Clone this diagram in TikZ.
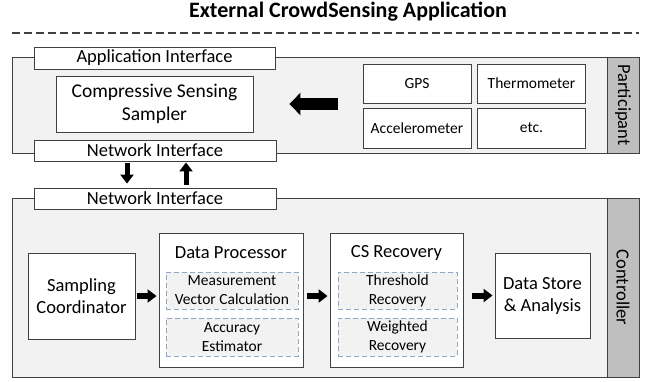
\documentclass[tikz,border=0pt]{standalone}
\usepackage{fontspec}
\setmainfont{Carlito}
\usetikzlibrary{arrows.meta}
\definecolor{panelgray}{HTML}{F2F2F2}
\definecolor{stripgray}{HTML}{BFBFBF}
\definecolor{edgegray}{HTML}{404040}
\definecolor{dashblue}{HTML}{8FA8C8}
\tikzset{
  panel/.style={draw=edgegray,fill=panelgray,line width=0.9pt,inner sep=0pt,minimum width=627pt},
  strip/.style={draw=edgegray,fill=stripgray,line width=0.9pt,inner sep=0pt,minimum width=32pt},
  box/.style={draw=edgegray,fill=white,line width=0.9pt,inner sep=1pt,align=center,font=\fontsize{18.5}{22}\selectfont},
  sensor/.style={box,font=\fontsize{15.5}{19}\selectfont,minimum width=108pt},
  sub/.style={draw=dashblue,fill=panelgray,line width=0.9pt,dash pattern=on 5pt off 3pt,inner sep=1pt,align=center,font=\fontsize{15.5}{19}\selectfont},
  lbl/.style={inner sep=0pt,font=\fontsize{18.5}{22}\selectfont},
  flow/.style={line width=6pt,-{Triangle[length=9pt,width=13pt]}},
  netflow/.style={line width=5pt,-{Triangle[length=9pt,width=13pt]}},
  bigflow/.style={line width=12pt,-{Triangle[length=11pt,width=22pt]}}
}
\begin{document}
\begin{tikzpicture}[x=1pt,y=-1pt]
\useasboundingbox (0,0) rectangle (662,381);

\node[anchor=base,inner sep=0pt,font=\bfseries\fontsize{22}{26}\selectfont] (title) at (348,17) {External CrowdSensing Application};
\coordinate (sepL) at (12,33);
\coordinate (sepR) at (639,33);
\draw[edgegray,line width=1.3pt,dash pattern=on 8pt off 4pt] (sepL) -- (sepR);

% participant side
\node[panel,minimum height=96pt] (part) at (325.5,105) {};
\node[strip,minimum height=96pt] (partstrip) at (623,105) {};
\node[lbl,rotate=-90] at (partstrip) {Participant};
\node[box,minimum width=241pt,minimum height=22pt] (appif) at (154.5,58) {Application Interface};
\node[box,minimum width=197pt,minimum height=56pt,font=\fontsize{19.5}{23}\selectfont] (cs) at (154.5,104) {Compressive Sensing\\Sampler};
\node[box,minimum width=242pt,minimum height=21pt] (netA) at (155,150.5) {Network Interface};
\node[sensor,minimum height=39pt] (gps) at (417,83.5) {GPS};
\node[sensor,minimum height=39pt] (thermo) at (531.5,83.5) {Thermometer};
\node[sensor,minimum height=40pt] (accel) at (417,128) {Accelerometer};
\node[sensor,minimum height=40pt] (etc) at (531.5,128) {etc.};
\draw[bigflow] ([xshift=-25pt]gps.west |- cs.east) -- ([xshift=36pt]cs.east);

% controller side
\node[panel,minimum height=179pt] (ctrl) at (325.5,287.5) {};
\node[strip,minimum height=179pt] (ctrlstrip) at (623,287.5) {};
\node[lbl,rotate=-90] at (ctrlstrip) {Controller};
\node[box,minimum width=242pt,minimum height=21pt] (netB) at (155,198.5) {Network Interface};
\draw[netflow,shorten <=2pt,shorten >=4pt] ([xshift=-28pt]netA.south) -- ([xshift=-28pt]netB.north);
\draw[netflow,shorten <=3pt,shorten >=1pt] ([xshift=31pt]netB.north) -- ([xshift=31pt]netA.south);

\node[box,minimum width=107pt,minimum height=86pt] (samp) at (81.5,296) {Sampling\\Coordinator};
\node[box,minimum width=144pt,minimum height=134pt] (dproc) at (231,300) {};
\node[lbl] at (231,253) {Data Processor};
\node[sub,minimum width=132pt,minimum height=37pt] (meas) at (232,290.5) {Measurement\\Vector Calculation};
\node[sub,minimum width=132pt,minimum height=38pt] (acc) at (232,337) {Accuracy\\Estimator};
\node[box,minimum width=133pt,minimum height=134pt] (csrec) at (396.5,300) {};
\node[lbl] at (396.5,253) {CS Recovery};
\node[sub,minimum width=119pt,minimum height=37pt] (thres) at (397.5,290.5) {Threshold\\Recovery};
\node[sub,minimum width=119pt,minimum height=38pt] (wght) at (397.5,337) {Weighted\\Recovery};
\node[box,minimum width=95pt,minimum height=85pt] (dstore) at (542.5,295.5) {Data Store\\\& Analysis};

\draw[flow,shorten <=2pt,shorten >=2pt] (samp.east) -- (samp.east -| dproc.west);
\draw[flow,shorten <=4pt,shorten >=2pt] (dproc.east |- samp.east) -- (samp.east -| csrec.west);
\draw[flow,shorten <=9pt,shorten >=2pt] (csrec.east |- dstore.west) -- (dstore.west);
\end{tikzpicture}
\end{document}
